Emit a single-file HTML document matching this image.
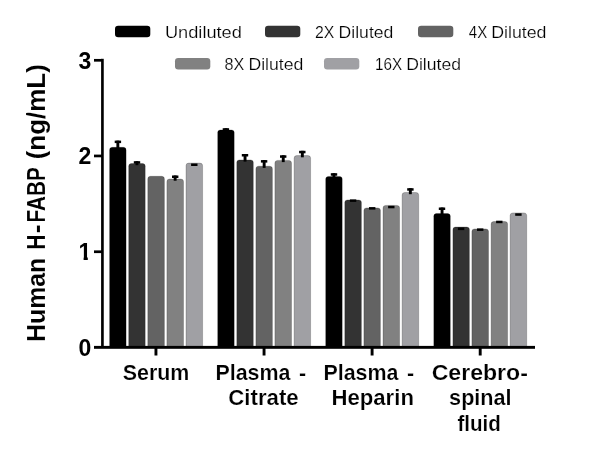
<!DOCTYPE html>
<html><head><meta charset="utf-8"><title>Human H-FABP</title>
<style>html,body{margin:0;padding:0;background:#fff}svg{display:block}text{font-family:"Liberation Sans",sans-serif;fill:#000;stroke:#fff;stroke-width:0.2px}.l{stroke-width:0.2px}.b{font-weight:bold;font-size:22px}.t text{font-size:25.5px;stroke-width:0.1px}.l{font-size:16.4px}</style></head><body>
<svg width="600" height="472" viewBox="0 0 600 472">
<rect width="600" height="472" fill="#fff"/>
<rect x="115" y="25.8" width="35.3" height="11.4" rx="3.2" fill="#000000"/>
<text class="l" y="37.5"><tspan x="164.92" textLength="77.0" lengthAdjust="spacingAndGlyphs">Undiluted</tspan></text>
<rect x="265" y="25.8" width="35.3" height="11.4" rx="3.2" fill="#333333"/>
<text class="l" y="37.5"><tspan x="315.06" textLength="19.35" lengthAdjust="spacingAndGlyphs">2X</tspan> <tspan x="338.59" textLength="54.76" lengthAdjust="spacingAndGlyphs">Diluted</tspan></text>
<rect x="418" y="25.8" width="35.3" height="11.4" rx="3.2" fill="#636363"/>
<text class="l" y="37.5"><tspan x="468.78" textLength="18.41" lengthAdjust="spacingAndGlyphs">4X</tspan> <tspan x="491.17" textLength="55.31" lengthAdjust="spacingAndGlyphs">Diluted</tspan></text>
<rect x="175" y="58" width="35.3" height="11.4" rx="3.2" fill="#818181"/>
<text class="l" y="70.2"><tspan x="224.55" textLength="19.76" lengthAdjust="spacingAndGlyphs">8X</tspan> <tspan x="248.44" textLength="54.93" lengthAdjust="spacingAndGlyphs">Diluted</tspan></text>
<rect x="324" y="58" width="35.3" height="11.4" rx="3.2" fill="#a0a0a4"/>
<text class="l" y="70.2"><tspan x="374.93" textLength="27.13" lengthAdjust="spacingAndGlyphs">16X</tspan> <tspan x="406.21" textLength="54.8" lengthAdjust="spacingAndGlyphs">Diluted</tspan></text>
<path d="M109.6 347V150.0Q109.6 147.3 112.3 147.3H123.4Q126.1 147.3 126.1 150.0V347Z" fill="#000000" stroke="#000" stroke-opacity="0.22" stroke-width="0.9"/>
<rect x="114.7" y="140.6" width="6.4" height="2.5" fill="#000"/>
<rect x="116.4" y="140.6" width="2.9" height="8.4" fill="#000"/>
<path d="M128.7 347V166.2Q128.7 163.5 131.4 163.5H142.6Q145.2 163.5 145.2 166.2V347Z" fill="#333333" stroke="#000" stroke-opacity="0.22" stroke-width="0.9"/>
<rect x="133.8" y="161.2" width="6.4" height="2.5" fill="#000"/>
<rect x="135.5" y="161.2" width="2.9" height="4.0" fill="#000"/>
<path d="M147.8 347V179.0Q147.8 176.3 150.5 176.3H161.7Q164.4 176.3 164.4 179.0V347Z" fill="#636363" stroke="#000" stroke-opacity="0.22" stroke-width="0.9"/>
<path d="M166.9 347V181.7Q166.9 179.0 169.6 179.0H180.8Q183.5 179.0 183.5 181.7V347Z" fill="#818181" stroke="#000" stroke-opacity="0.22" stroke-width="0.9"/>
<rect x="172.0" y="175.5" width="6.4" height="2.5" fill="#000"/>
<rect x="173.7" y="175.5" width="2.9" height="5.2" fill="#000"/>
<path d="M186.0 347V165.8Q186.0 163.1 188.7 163.1H199.9Q202.6 163.1 202.6 165.8V347Z" fill="#a0a0a4" stroke="#000" stroke-opacity="0.22" stroke-width="0.9"/>
<rect x="191.1" y="163.5" width="6.4" height="2.5" fill="#000"/>
<path d="M217.7 347V132.6Q217.7 129.9 220.3 129.9H231.5Q234.2 129.9 234.2 132.6V347Z" fill="#000000" stroke="#000" stroke-opacity="0.22" stroke-width="0.9"/>
<rect x="222.7" y="128.2" width="6.4" height="2.5" fill="#000"/>
<rect x="224.5" y="128.2" width="2.9" height="3.4" fill="#000"/>
<path d="M236.8 347V162.6Q236.8 159.9 239.4 159.9H250.6Q253.3 159.9 253.3 162.6V347Z" fill="#333333" stroke="#000" stroke-opacity="0.22" stroke-width="0.9"/>
<rect x="241.8" y="154.0" width="6.4" height="2.5" fill="#000"/>
<rect x="243.6" y="154.0" width="2.9" height="7.6" fill="#000"/>
<path d="M255.9 347V168.9Q255.9 166.2 258.6 166.2H269.7Q272.4 166.2 272.4 168.9V347Z" fill="#636363" stroke="#000" stroke-opacity="0.22" stroke-width="0.9"/>
<rect x="260.9" y="160.1" width="6.4" height="2.5" fill="#000"/>
<rect x="262.7" y="160.1" width="2.9" height="7.8" fill="#000"/>
<path d="M274.9 347V163.1Q274.9 160.4 277.6 160.4H288.8Q291.5 160.4 291.5 163.1V347Z" fill="#818181" stroke="#000" stroke-opacity="0.22" stroke-width="0.9"/>
<rect x="280.0" y="155.3" width="6.4" height="2.5" fill="#000"/>
<rect x="281.8" y="155.3" width="2.9" height="6.8" fill="#000"/>
<path d="M294.1 347V158.3Q294.1 155.6 296.8 155.6H307.9Q310.6 155.6 310.6 158.3V347Z" fill="#a0a0a4" stroke="#000" stroke-opacity="0.22" stroke-width="0.9"/>
<rect x="299.1" y="150.8" width="6.4" height="2.5" fill="#000"/>
<rect x="300.9" y="150.8" width="2.9" height="6.5" fill="#000"/>
<path d="M325.7 347V179.1Q325.7 176.4 328.4 176.4H339.6Q342.2 176.4 342.2 179.1V347Z" fill="#000000" stroke="#000" stroke-opacity="0.22" stroke-width="0.9"/>
<rect x="330.8" y="173.2" width="6.4" height="2.5" fill="#000"/>
<rect x="332.5" y="173.2" width="2.9" height="4.9" fill="#000"/>
<path d="M344.8 347V202.6Q344.8 199.9 347.5 199.9H358.7Q361.4 199.9 361.4 202.6V347Z" fill="#333333" stroke="#000" stroke-opacity="0.22" stroke-width="0.9"/>
<rect x="349.9" y="199.4" width="6.4" height="2.5" fill="#000"/>
<path d="M363.9 347V210.6Q363.9 207.9 366.6 207.9H377.8Q380.4 207.9 380.4 210.6V347Z" fill="#636363" stroke="#000" stroke-opacity="0.22" stroke-width="0.9"/>
<rect x="369.0" y="207.1" width="6.4" height="2.5" fill="#000"/>
<path d="M383.0 347V208.1Q383.0 205.4 385.7 205.4H396.9Q399.6 205.4 399.6 208.1V347Z" fill="#818181" stroke="#000" stroke-opacity="0.22" stroke-width="0.9"/>
<rect x="388.1" y="205.8" width="6.4" height="2.5" fill="#000"/>
<path d="M402.1 347V195.2Q402.1 192.5 404.8 192.5H416.0Q418.7 192.5 418.7 195.2V347Z" fill="#a0a0a4" stroke="#000" stroke-opacity="0.22" stroke-width="0.9"/>
<rect x="407.2" y="188.2" width="6.4" height="2.5" fill="#000"/>
<rect x="408.9" y="188.2" width="2.9" height="6.0" fill="#000"/>
<path d="M433.8 347V216.3Q433.8 213.6 436.4 213.6H447.6Q450.3 213.6 450.3 216.3V347Z" fill="#000000" stroke="#000" stroke-opacity="0.22" stroke-width="0.9"/>
<rect x="438.8" y="207.5" width="6.4" height="2.5" fill="#000"/>
<rect x="440.6" y="207.5" width="2.9" height="7.8" fill="#000"/>
<path d="M452.9 347V229.7Q452.9 227.0 455.6 227.0H466.7Q469.4 227.0 469.4 229.7V347Z" fill="#333333" stroke="#000" stroke-opacity="0.22" stroke-width="0.9"/>
<rect x="457.9" y="227.6" width="6.4" height="2.5" fill="#000"/>
<path d="M471.9 347V231.6Q471.9 228.9 474.6 228.9H485.8Q488.5 228.9 488.5 231.6V347Z" fill="#636363" stroke="#000" stroke-opacity="0.22" stroke-width="0.9"/>
<rect x="477.0" y="228.4" width="6.4" height="2.5" fill="#000"/>
<path d="M491.1 347V224.2Q491.1 221.5 493.8 221.5H504.9Q507.6 221.5 507.6 224.2V347Z" fill="#818181" stroke="#000" stroke-opacity="0.22" stroke-width="0.9"/>
<rect x="496.1" y="220.7" width="6.4" height="2.5" fill="#000"/>
<path d="M510.1 347V215.6Q510.1 212.9 512.9 212.9H524.0Q526.7 212.9 526.7 215.6V347Z" fill="#a0a0a4" stroke="#000" stroke-opacity="0.22" stroke-width="0.9"/>
<rect x="515.2" y="213.3" width="6.4" height="2.5" fill="#000"/>
<rect x="101.1" y="58.8" width="2.65" height="288.5" fill="#000"/>
<rect x="94" y="345.9" width="441" height="2.9" fill="#000"/>
<rect x="94" y="250.40" width="8" height="2.7" fill="#000"/>
<rect x="94" y="154.60" width="8" height="2.7" fill="#000"/>
<rect x="94" y="58.95" width="8" height="2.7" fill="#000"/>
<rect x="154.50" y="347" width="2.9" height="8.5" fill="#000"/>
<rect x="262.60" y="347" width="2.9" height="8.5" fill="#000"/>
<rect x="370.65" y="347" width="2.9" height="8.5" fill="#000"/>
<rect x="478.75" y="347" width="2.9" height="8.5" fill="#000"/>
<clipPath id="c1"><rect x="76" y="240" width="16" height="16.9"/><rect x="83.6" y="256" width="4.2" height="6"/></clipPath>
<text class="b" x="91.4" y="356" text-anchor="end" style="font-size:23px;stroke:none">0</text>
<text class="b" x="91.4" y="260" text-anchor="end" style="font-size:23px;stroke:none" clip-path="url(#c1)">1</text>
<text class="b" x="91.4" y="164.3" text-anchor="end" style="font-size:23px;stroke:none">2</text>
<text class="b" x="91.4" y="68.8" text-anchor="end" style="font-size:23px;stroke:none">3</text>
<text class="b" x="122.79" y="380.0" textLength="66.61" lengthAdjust="spacingAndGlyphs">Serum</text>
<text class="b" y="380"><tspan x="215.47" textLength="75.03" lengthAdjust="spacingAndGlyphs">Plasma</tspan> <tspan x="299.03" textLength="7.11" lengthAdjust="spacingAndGlyphs">-</tspan></text>
<text class="b" x="228.3" y="405.1" textLength="70.39" lengthAdjust="spacingAndGlyphs">Citrate</text>
<text class="b" y="380"><tspan x="323.47" textLength="75.03" lengthAdjust="spacingAndGlyphs">Plasma</tspan> <tspan x="407.03" textLength="7.11" lengthAdjust="spacingAndGlyphs">-</tspan></text>
<text class="b" x="331.41" y="405.1" textLength="82.52" lengthAdjust="spacingAndGlyphs">Heparin</text>
<text class="b" x="431.66" y="380.0" textLength="96.25" lengthAdjust="spacingAndGlyphs">Cerebro-</text>
<text class="b" x="449.11" y="405.1" textLength="62.45" lengthAdjust="spacingAndGlyphs">spinal</text>
<text class="b" x="457.4" y="431.0" textLength="43.4" lengthAdjust="spacingAndGlyphs">fluid</text>
<g class="t" transform="translate(44.8,400) rotate(-90)">
<text class="b" x="57.98" y="0" textLength="84.36" lengthAdjust="spacingAndGlyphs">Human</text>
<text class="b" y="0"><tspan x="150.26" textLength="15.23" lengthAdjust="spacingAndGlyphs">H</tspan><tspan x="166.69" textLength="8.97" lengthAdjust="spacingAndGlyphs">-</tspan><tspan x="177.48" textLength="55.25" lengthAdjust="spacingAndGlyphs">FABP</tspan></text>
<text class="b" x="240.68" y="0" textLength="95.11" lengthAdjust="spacingAndGlyphs">(ng/mL)</text>
</g>
</svg></body></html>
